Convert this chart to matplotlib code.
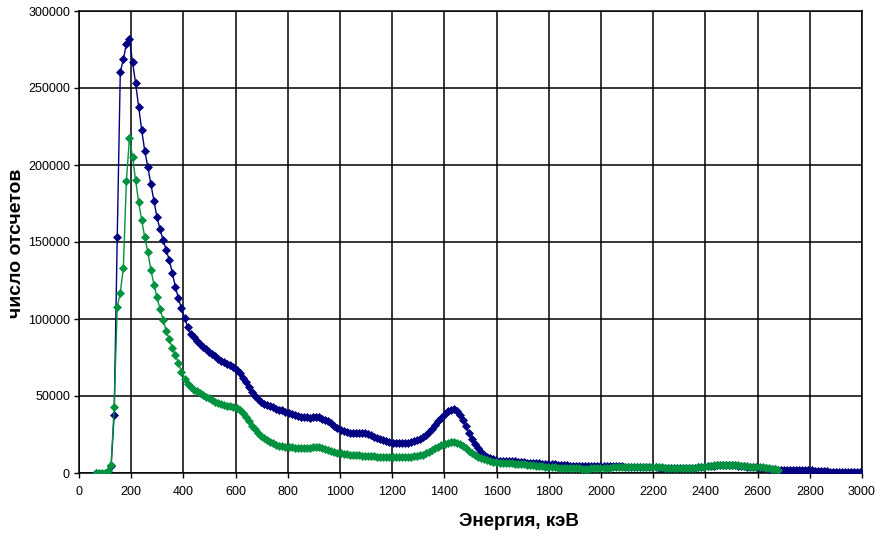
import numpy as np
import matplotlib
matplotlib.use('Agg')
import matplotlib.pyplot as plt
from matplotlib.ticker import FuncFormatter, MultipleLocator

plt.rcParams['font.family'] = ['Liberation Sans', 'DejaVu Sans']

# spectrometer: 256 channels over 0..3000 keV
kev_per_channel = 3000 / 256
first_channel = 5

# counts per channel, starting at channel 5
counts_blue = [
    200, -600, -800, -600, 500,
    4500, 37700, 153000, 260200, 268700, 278600, 281900, 266900, 253100, 237900,
    222700, 209000, 198900, 187500, 176700, 166000, 158300, 151300, 144800, 138300,
    130100, 121000, 113400, 107000, 100500, 95000, 90500, 88000, 85500, 83500,
    82000, 80500, 78800, 77200, 75800, 74300, 73000, 72000, 71000, 70200,
    68800, 67000, 64700, 61800, 58800, 55600, 52500, 49800, 47800, 46300,
    45000, 44200, 43400, 42600, 41800, 41100, 40600, 39900, 39200, 38300,
    37600, 37000, 36600, 36300, 36200, 36000, 36300, 36500, 36100, 35300,
    34400, 33500, 32200, 30600, 29000, 27800, 27000, 26400, 26000, 25800,
    25900, 26100, 26000, 25700, 25300, 24600, 23700, 22800, 22000, 21300,
    20700, 20200, 19800, 19500, 19300, 19300, 19400, 19700, 20200, 20800,
    21500, 22400, 23600, 25000, 26800, 28800, 31000, 33500, 36000, 38300,
    40000, 41000, 41300, 40500, 37800, 34300, 30200, 26000, 22000, 18700,
    16000, 13800, 12000, 10600, 9600, 8900, 8400, 8100, 7900, 7800,
    7700, 7600, 7500, 7300, 7100, 7000, 6800, 6700, 6500, 6400,
    6300, 6100, 6000, 5900, 5800, 5700, 5500, 5300, 5100, 4900,
    4700, 4600, 4500, 4400, 4300, 4300, 4300, 4400, 4500, 4700,
    4800, 4800, 4700, 4600, 4500, 4500, 4400, 4300, 4200, 4100,
    4000, 4000, 4000, 3900, 3900, 3800, 3800, 3700, 3600, 3500,
    3400, 3300, 3200, 3200, 3100, 3100, 3000, 3000, 3100, 3200,
    3300, 3400, 3600, 3800, 4000, 4300, 4600, 4800, 5000, 5100,
    5200, 5200, 5100, 5000, 4900, 4800, 4600, 4400, 4200, 4000,
    3800, 3700, 3500, 3300, 3100, 2900, 2600, 2300, 2100, 1900,
    1900, 1900, 1800, 1800, 1800, 1800, 1700, 1700, 1700, 1700,
    1600, 1500, 1400, 1200, 1000, 800, 700, 600, 600, 500,
    500, 500, 600, 600, 700, 800,
]

counts_green = [
    300, 200, 100, 300, 1500,
    5200, 43000, 107600, 117100, 133300, 189900, 217500, 205400, 190300, 176000,
    164000, 153000, 143500, 132000, 122400, 114000, 106500, 99400, 92500, 86700,
    81000, 76600, 71600, 65800, 61000, 58000, 55800, 54200, 53000, 51800,
    50600, 49500, 48500, 47400, 46300, 45300, 44600, 44000, 43500, 43200,
    42800, 42000, 40900, 39000, 36200, 33500, 30800, 28300, 26200, 24300,
    22700, 21300, 20200, 19200, 18400, 17800, 17300, 17000, 16700, 16600,
    16500, 16300, 16200, 16000, 16100, 16300, 16600, 16700, 16600, 16200,
    15600, 15000, 14400, 13800, 13200, 12800, 12400, 12200, 12000, 11800,
    11700, 11500, 11300, 11100, 11000, 10900, 10800, 10600, 10500, 10300,
    10200, 10200, 10200, 10200, 10200, 10200, 10300, 10400, 10600, 10800,
    11100, 11500, 12000, 12800, 13800, 14900, 16000, 17200, 18300, 19100,
    19700, 20100, 20200, 19800, 18900, 17600, 16100, 14600, 13100, 11800,
    10600, 9600, 8800, 8200, 7700, 7300, 7000, 6800, 6600, 6400,
    6300, 6200, 6100, 6000, 5800, 5600, 5400, 5200, 5000, 4800,
    4600, 4400, 4200, 4000, 3800, 3600, 3500, 3400, 3400, 3300,
    3200, 3100, 3000, 3000, 2900, 2900, 2900, 3000, 3000, 3100,
    3200, 3300, 3400, 3500, 3600, 3700, 3800, 3900, 4000, 4000,
    4100, 4100, 4100, 4100, 4100, 4100, 4000, 3900, 3800, 3700,
    3600, 3500, 3400, 3300, 3300, 3200, 3200, 3100, 3100, 3200,
    3300, 3400, 3600, 3800, 4100, 4400, 4700, 4900, 5100, 5200,
    5300, 5300, 5200, 5100, 5000, 4900, 4700, 4500, 4300, 4100,
    4000, 3900, 3800, 3600, 3400, 3100, 2800, 2400, 2000,
]


def channel_energy(counts):
    ch = np.arange(first_channel, first_channel + len(counts))
    return (ch + 0.5) * kev_per_channel


fig = plt.figure(figsize=(8.76, 5.37), dpi=100)
ax = fig.add_axes([79 / 876, 64 / 537, 783 / 876, 462 / 537])

ax.plot(channel_energy(counts_blue), counts_blue, color='#000080', lw=1.0,
        marker='D', ms=4.2, mec='#000080', mfc='#000080', mew=0.5, zorder=3)
ax.plot(channel_energy(counts_green), counts_green, color='#00923F', lw=1.0,
        marker='D', ms=4.2, mec='#00923F', mfc='#00923F', mew=0.5, zorder=4)

ax.set_xlim(0, 3000)
ax.set_ylim(0, 300000)
ax.xaxis.set_major_locator(MultipleLocator(200))
ax.yaxis.set_major_locator(MultipleLocator(50000))
ax.yaxis.set_major_formatter(FuncFormatter(lambda v, p: '%d' % v))
ax.grid(True, color='black', lw=1.1)
ax.set_axisbelow(True)
for s in ax.spines.values():
    s.set_color('black')
    s.set_linewidth(1.1)
ax.tick_params(direction='out', length=3.5, width=1, labelsize=9, pad=3,
               colors='black')
ax.tick_params(axis='x', pad=6)

fig.text(519 / 876, 1 - 522 / 537, 'Энергия, кэВ', ha='center', va='center',
         fontsize=13.5, fontweight='bold')
fig.text(17 / 876, 1 - 243 / 537, 'число отсчетов', ha='center', va='center',
         rotation=90, fontsize=14, fontweight='bold')

fig.savefig('out.png', dpi=100)
